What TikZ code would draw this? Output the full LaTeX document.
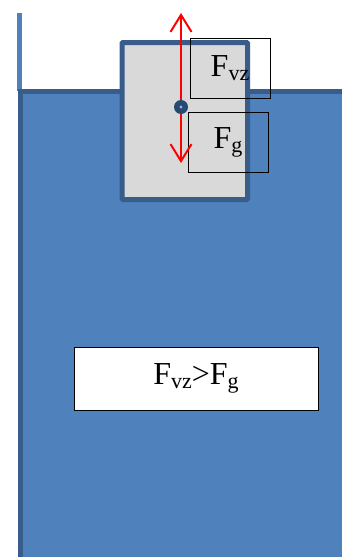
\documentclass[tikz,border=0pt]{standalone}
\usepackage{fontspec}
\setmainfont{Liberation Serif}
\usetikzlibrary{arrows.meta}
\definecolor{water}{HTML}{4F81BD}
\definecolor{edge}{HTML}{385D8A}
\definecolor{blockgray}{HTML}{D9D9D9}
\definecolor{dotblue}{HTML}{264A73}
\newcommand{\Fsub}[1]{F{\fontsize{22}{22}\selectfont\raisebox{-4pt}{#1}}}
\tikzset{
  labelbox/.style={draw=black, line width=1pt, minimum width=80pt, minimum height=60pt, inner sep=0pt, font=\fontsize{32}{32}\selectfont},
  forcearrow/.style={draw=red, line width=2pt, {Straight Barb[length=17pt,width=21pt]}-{Straight Barb[length=17pt,width=21pt]}}
}
\begin{document}
\begin{tikzpicture}[x=1pt,y=-1pt]
\useasboundingbox (0,0) rectangle (342,557);
% left wall above water
\fill[water] (17,13) rectangle (22,91);
% water
\fill[water] (20,91.5) rectangle (342,557);
\draw[edge, line width=5pt] (20,557) -- (20,91.5) -- (342,91.5);
% block
\draw[edge, fill=blockgray, line width=5pt, rounded corners=1pt] (122,42.5) rectangle (247.5,199.5);
% label boxes
\node[labelbox] (fvz) at (230,68) {\Fsub{vz}};
\node[labelbox] (fg) at (228,142) {\Fsub{g}};
% arrow
\coordinate (top) at (181,13);
\coordinate (bot) at (181,163);
\draw[forcearrow] (bot) -- (top);
% centre of mass
\node[circle, fill=dotblue, minimum size=14pt, inner sep=0pt] (cm) at (181,107) {};
\fill[water!60!white] (cm.center) circle (1.6pt);
% result box
\node[draw=black, line width=1pt, fill=white, minimum width=244pt, minimum height=63pt, inner sep=0pt, font=\fontsize{32}{32}\selectfont] (res) at (196,378.5) {\Fsub{vz}>\Fsub{g}};
\end{tikzpicture}
\end{document}
